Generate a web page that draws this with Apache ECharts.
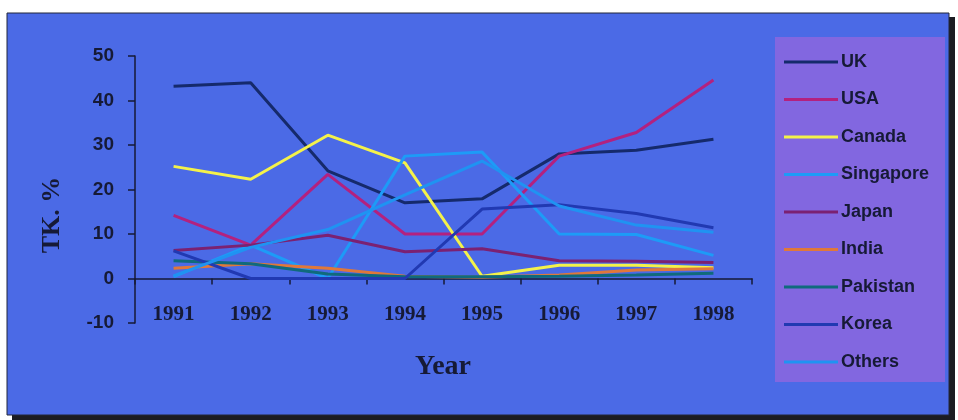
<!DOCTYPE html>
<html>
<head>
<meta charset="utf-8">
<script src="https://cdn.jsdelivr.net/npm/echarts@6/dist/echarts.min.js"></script>
<style>
  html, body { margin: 0; padding: 0; background: #ffffff; }
  #chart { width: 958px; height: 420px; }
</style>
</head>
<body>
<div id="chart"></div>
<script>
// Share of total (TK. %) by destination country, 1991-1998
const years = ['1991', '1992', '1993', '1994', '1995', '1996', '1997', '1998'];
const yTicks = { min: -10, max: 50, step: 10 };

const uk        = [43.2, 44.0, 24.2, 17.0, 17.9, 28.0, 28.8, 31.3];
const usa       = [14.2, 7.5, 23.4, 10.0, 10.0, 27.5, 32.8, 44.6];
const canada    = [25.2, 22.3, 32.2, 26.0, 0.5, 3.0, 3.0, 2.4];
const singapore = [0.4, 7.5, 0.0, 27.5, 28.4, 10.0, 9.9, 5.2];
const japan     = [6.3, 7.5, 9.7, 6.0, 6.7, 4.0, 3.9, 3.6];
const india     = [2.3, 3.3, 2.3, 0.5, 0.3, 0.8, 1.9, 2.2];
const pakistan  = [4.0, 3.3, 1.0, 0.4, 0.4, 0.5, 0.8, 1.2];
const korea     = [6.2, 0.0, 0.0, 0.0, 15.6, 16.6, 14.6, 11.4];
const others    = [0.6, 7.0, 11.0, 18.8, 26.4, 16.3, 12.0, 10.4];

const seriesNames  = ['UK', 'USA', 'Canada', 'Singapore', 'Japan', 'India', 'Pakistan', 'Korea', 'Others'];
const seriesValues = [uk, usa, canada, singapore, japan, india, pakistan, korea, others];
const seriesColors = ['#152a6c', '#b3217f', '#f4f24a', '#1d9bf7', '#7b2172', '#e0783a', '#106a7c', '#2139b2', '#1f93f2'];

const ink = '#161a36';
const chart = echarts.init(document.getElementById('chart'), null, { renderer: 'canvas' });

chart.setOption({
  animation: false,
  backgroundColor: '#ffffff',
  graphic: [
    // frame shadow (right and bottom)
    { type: 'rect', z: -10, shape: { x: 12, y: 17, width: 943, height: 403 }, style: { fill: '#1c1c22' } },
    // chart area
    { type: 'rect', z: -9, shape: { x: 7, y: 13, width: 942, height: 402 },
      style: { fill: '#4b6ae6', stroke: '#22263a', lineWidth: 1 } },
    // legend panel
    { type: 'rect', z: -8, shape: { x: 775, y: 37, width: 170, height: 345 }, style: { fill: '#8267e0' } },
    // axis titles
    { type: 'text', z: 5, x: 52, y: 215, rotation: Math.PI / 2,
      style: { text: 'TK. %', fill: ink, font: 'bold 26px "Liberation Serif", "Times New Roman", serif',
               align: 'center', verticalAlign: 'middle' } },
    { type: 'text', z: 5, x: 443, y: 367,
      style: { text: 'Year', fill: ink, font: 'bold 28px "Liberation Serif", "Times New Roman", serif',
               align: 'center', verticalAlign: 'middle' } }
  ],
  grid: { left: 135, right: 206, top: 56, bottom: 97, containLabel: false },
  legend: {
    orient: 'vertical',
    left: 779,
    top: 48,
    icon: 'rect',
    itemWidth: 54,
    itemHeight: 3,
    itemGap: 19.5,
    data: seriesNames,
    textStyle: {
      color: ink, fontSize: 18, fontWeight: 'bold', lineHeight: 18,
      fontFamily: '"Liberation Sans", Arial, sans-serif', padding: [0, 0, 0, -2]
    }
  },
  xAxis: {
    type: 'category',
    data: years,
    boundaryGap: true,
    axisLine: { onZero: true, lineStyle: { color: ink, width: 1.5 } },
    axisTick: { show: true, length: 6, inside: false, lineStyle: { color: ink, width: 1.5 } },
    axisLabel: {
      margin: -19, color: ink, fontSize: 21, fontWeight: 'bold',
      fontFamily: '"Liberation Serif", "Times New Roman", serif'
    },
    splitLine: { show: false }
  },
  yAxis: {
    type: 'value',
    min: yTicks.min,
    max: yTicks.max,
    interval: yTicks.step,
    axisLine: { show: true, lineStyle: { color: ink, width: 1.5 } },
    axisTick: { show: true, length: 7, lineStyle: { color: ink, width: 1.5 } },
    axisLabel: {
      margin: 21, color: ink, fontSize: 19, fontWeight: 'bold',
      fontFamily: '"Liberation Sans", Arial, sans-serif'
    },
    splitLine: { show: false }
  },
  series: seriesNames.map((name, i) => ({
    name: name,
    type: 'line',
    data: seriesValues[i],
    symbol: 'none',
    color: seriesColors[i],
    lineStyle: { width: 3, color: seriesColors[i] }
  }))
});
</script>
</body>
</html>
